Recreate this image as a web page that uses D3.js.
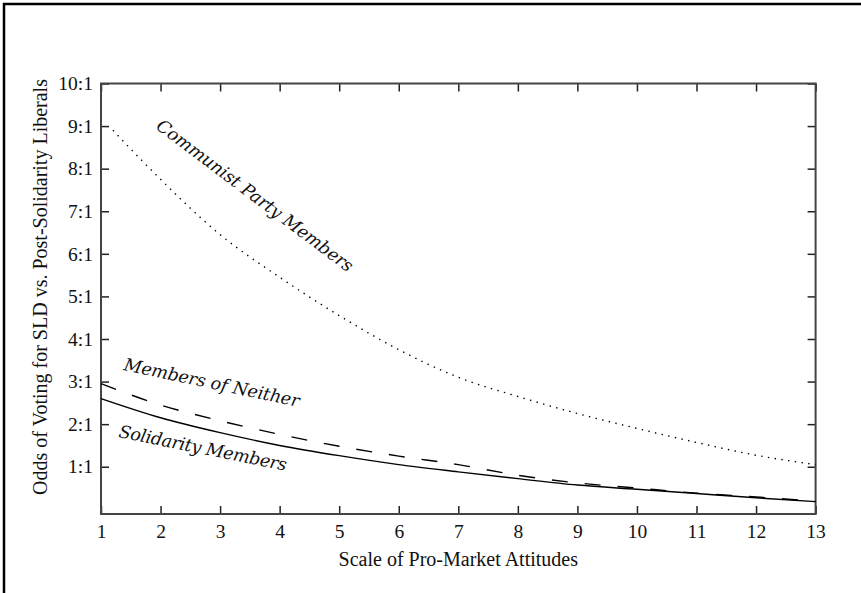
<!DOCTYPE html>
<html lang="en">

<head>
    <meta charset="UTF-8">
    <style>
        body { margin: 0; background: #fff; }
        svg { display: block; }
        text { font-family: "Liberation Serif", "Times New Roman", serif; fill: #111; }
    </style>
</head>

<body>
    <svg width="861" height="593"></svg>
    <script src="https://d3js.org/d3.v7.min.js"></script>
    <script>
        // values
        let scaleX = [1, 2, 3, 4, 5, 6, 7, 8, 9, 10, 11, 12, 13]
        let communistX = [1.2, 2, 3, 4, 5, 6, 7, 8, 9, 10, 11, 12, 13]
        let communist = [8.9, 7.75, 6.45, 5.45, 4.55, 3.75, 3.1, 2.65, 2.25, 1.9, 1.57, 1.27, 1.05]
        let neither = [2.95, 2.45, 2.08, 1.76, 1.48, 1.25, 1.05, 0.8, 0.62, 0.5, 0.38, 0.29, 0.19]
        let solidarity = [2.6, 2.15, 1.8, 1.5, 1.26, 1.05, 0.88, 0.72, 0.57, 0.47, 0.37, 0.27, 0.18]
        let yTicks = [1, 2, 3, 4, 5, 6, 7, 8, 9, 10]
        let yTickLabels = ["1:1", "2:1", "3:1", "4:1", "5:1", "6:1", "7:1", "8:1", "9:1", "10:1"]

        let svg = d3.select("svg")
        let pLeft = 101, pRight = 815.6, pTop = 83.5, pBottom = 514

        // outer frame (right and bottom edges fall outside the picture)
        svg.append("rect")
            .attr("x", 4).attr("y", 4)
            .attr("width", 1000).attr("height", 1000)
            .attr("fill", "none").attr("stroke", "#000").attr("stroke-width", 2.5)

        let x = d3.scaleLinear().domain([1, 13]).range([pLeft, pRight])
        let y = d3.scaleLinear().domain([-0.11, 10]).range([pBottom, pTop])

        let line = d3.line()
            .x(d => x(d[0]))
            .y(d => y(d[1]))
            .curve(d3.curveMonotoneX)

        // ticks on all four sides, pointing in
        svg.append("g").attr("transform", `translate(0,${pBottom})`)
            .call(d3.axisBottom(x).tickValues(scaleX).tickSize(-8).tickPadding(10).tickFormat(d3.format("d")))
        svg.append("g").attr("transform", `translate(0,${pTop})`)
            .call(d3.axisTop(x).tickValues(scaleX).tickSize(-8).tickFormat(""))
        svg.append("g").attr("transform", `translate(${pLeft},0)`)
            .call(d3.axisLeft(y).tickValues(yTicks).tickSize(-8).tickPadding(8).tickFormat((d, i) => yTickLabels[i]))
        svg.append("g").attr("transform", `translate(${pRight},0)`)
            .call(d3.axisRight(y).tickValues(yTicks).tickSize(-8).tickFormat(""))

        svg.selectAll(".domain").remove()
        svg.selectAll(".tick line").attr("stroke", "#222").attr("stroke-width", 1.5)
        svg.selectAll(".tick text")
            .style("font-family", "'Liberation Serif', serif")
            .style("font-size", "19.5px")
            .attr("fill", "#111")

        svg.append("rect")
            .attr("x", pLeft).attr("y", pTop)
            .attr("width", pRight - pLeft).attr("height", pBottom - pTop)
            .attr("fill", "none").attr("stroke", "#444").attr("stroke-width", 2)

        svg.append("path")
            .attr("d", line(communistX.map((v, i) => [v, communist[i]])))
            .attr("fill", "none").attr("stroke", "#000")
            .attr("stroke-width", 1.4).attr("stroke-dasharray", "1.4,5.4")
        svg.append("path")
            .attr("d", line(scaleX.map((v, i) => [v, neither[i]])))
            .attr("fill", "none").attr("stroke", "#000")
            .attr("stroke-width", 1.4).attr("stroke-dasharray", "16,17")
        svg.append("path")
            .attr("d", line(scaleX.map((v, i) => [v, solidarity[i]])))
            .attr("fill", "none").attr("stroke", "#000")
            .attr("stroke-width", 1.4)

        // curve labels, anchored in data units
        let labels = [
            { text: "Communist Party Members", at: [1.907, 8.955], angle: 36.9, len: 241 },
            { text: "Members of Neither", at: [1.369, 3.271], angle: 11.9, len: 179 },
            { text: "Solidarity Members", at: [1.285, 1.698], angle: 11.4, len: 171 }
        ]
        svg.selectAll("text.lab")
            .data(labels).enter()
            .append("text")
            .attr("class", "lab")
            .attr("transform", d => `translate(${x(d.at[0])},${y(d.at[1])}) rotate(${d.angle})`)
            .attr("textLength", d => d.len)
            .attr("lengthAdjust", "spacing")
            .style("font-family", "'DejaVu Serif', serif")
            .style("font-size", "17.5px")
            .style("font-style", "italic")
            .text(d => d.text)

        svg.append("text")
            .attr("x", (pLeft + pRight) / 2).attr("y", 566)
            .attr("text-anchor", "middle")
            .style("font-size", "20px")
            .text("Scale of Pro-Market Attitudes")

        svg.append("text")
            .attr("transform", "translate(47,287) rotate(-90)")
            .attr("text-anchor", "middle")
            .style("font-size", "20px")
            .text("Odds of Voting for SLD vs. Post-Solidarity Liberals")
    </script>
</body>

</html>
